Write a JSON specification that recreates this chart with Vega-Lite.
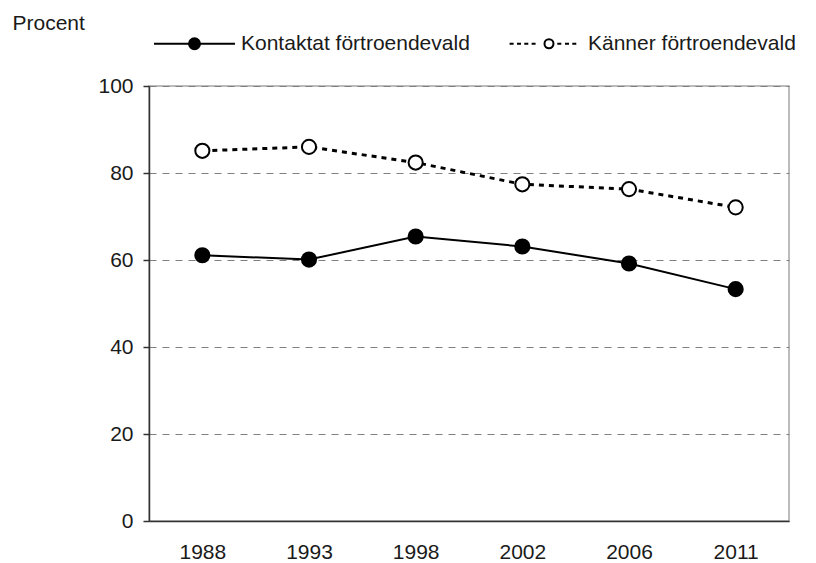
{
  "$schema": "https://vega.github.io/schema/vega-lite/v6.json",
  "width": 640,
  "height": 435,
  "autosize": {"type": "none"},
  "padding": {"left": 149, "top": 86, "right": 27, "bottom": 42},
  "background": "white",
  "config": {
    "font": "Liberation Sans",
    "view": {"stroke": "#a6a6a6", "strokeWidth": 1.5}
  },
  "data": {
    "values": [
      {"year": "1988", "series": "Kontaktat förtroendevald", "value": 61.1},
      {"year": "1993", "series": "Kontaktat förtroendevald", "value": 60.1},
      {"year": "1998", "series": "Kontaktat förtroendevald", "value": 65.4},
      {"year": "2002", "series": "Kontaktat förtroendevald", "value": 63.1},
      {"year": "2006", "series": "Kontaktat förtroendevald", "value": 59.2},
      {"year": "2011", "series": "Kontaktat förtroendevald", "value": 53.3},
      {"year": "1988", "series": "Känner förtroendevald", "value": 85.1},
      {"year": "1993", "series": "Känner förtroendevald", "value": 86.0},
      {"year": "1998", "series": "Känner förtroendevald", "value": 82.4},
      {"year": "2002", "series": "Känner förtroendevald", "value": 77.4},
      {"year": "2006", "series": "Känner förtroendevald", "value": 76.3},
      {"year": "2011", "series": "Känner förtroendevald", "value": 72.1}
    ]
  },
  "encoding": {
    "x": {
      "field": "year",
      "type": "ordinal",
      "scale": {"type": "point", "padding": 0.5},
      "axis": {
        "title": null,
        "labelAngle": 0,
        "ticks": false,
        "labelPadding": 20,
        "labelFontSize": 21,
        "labelColor": "#1a1a1a",
        "domainColor": "#333333",
        "domainWidth": 1.5,
        "grid": false
      }
    },
    "y": {
      "field": "value",
      "type": "quantitative",
      "scale": {"domain": [0, 100], "nice": false},
      "axis": {
        "values": [0, 20, 40, 60, 80, 100],
        "grid": true,
        "gridColor": "#808080",
        "gridDash": [7, 6],
        "gridWidth": 1.2,
        "domainColor": "#333333",
        "domainWidth": 1.5,
        "tickColor": "#333333",
        "tickSize": 6,
        "tickWidth": 1.5,
        "labelFontSize": 21,
        "labelPadding": 10,
        "labelColor": "#1a1a1a",
        "title": "Procent",
        "titleAngle": 0,
        "titleAlign": "left",
        "titleBaseline": "alphabetic",
        "titleX": -137,
        "titleY": -57,
        "titleFontSize": 21,
        "titleFontWeight": "normal",
        "titleColor": "#1a1a1a"
      }
    }
  },
  "layer": [
    {
      "transform": [{"filter": "datum.series === 'Kontaktat förtroendevald'"}],
      "mark": {"type": "line", "color": "black", "strokeWidth": 2}
    },
    {
      "transform": [{"filter": "datum.series === 'Känner förtroendevald'"}],
      "mark": {"type": "line", "color": "black", "strokeWidth": 3, "strokeDash": [5, 5]}
    },
    {
      "mark": {"type": "point", "filled": true, "size": 200, "stroke": "black", "strokeWidth": 2, "opacity": 0},
      "encoding": {
        "fill": {
          "field": "series",
          "type": "nominal",
          "scale": {"domain": ["Kontaktat förtroendevald", "Känner förtroendevald"], "range": ["black", "white"]},
          "legend": {
            "title": null,
            "orient": "none",
            "direction": "horizontal",
            "legendX": 4,
            "legendY": -84,
            "padding": 0,
            "symbolSize": 6561,
            "symbolStrokeWidth": 2,
            "symbolStrokeColor": "black",
            "symbolOpacity": 1,
            "labelFontSize": 21,
            "labelColor": "#1a1a1a",
            "labelLimit": 400,
            "labelOffset": 5,
            "columnPadding": 30,
            "encode": {"symbols": {"update": {"opacity": {"value": 1}}}}
          }
        },
        "shape": {
          "field": "series",
          "type": "nominal",
          "scale": {
            "domain": ["Kontaktat förtroendevald", "Känner förtroendevald"],
            "range": [
              "M-1,0H1M0.136,0A0.136,0.136,0,1,1,-0.136,0A0.136,0.136,0,1,1,0.136,0Z",
              "M-0.788,0H-0.689M-0.605,0H-0.506M-0.425,0H-0.326M-0.244,0H-0.146M0.39,0H0.489M0.58,0H0.679M0.76,0H0.859M0.296,0A0.111,0.111,0,1,1,0.074,0A0.111,0.111,0,1,1,0.296,0Z"
            ]
          },
          "legend": {
            "title": null,
            "orient": "none",
            "direction": "horizontal",
            "legendX": 4,
            "legendY": -84,
            "padding": 0,
            "symbolSize": 6561,
            "symbolStrokeWidth": 2,
            "symbolStrokeColor": "black",
            "symbolOpacity": 1,
            "labelFontSize": 21,
            "labelColor": "#1a1a1a",
            "labelLimit": 400,
            "labelOffset": 5,
            "columnPadding": 30,
            "encode": {"symbols": {"update": {"opacity": {"value": 1}}}}
          }
        }
      }
    },
    {
      "mark": {"type": "point", "shape": "circle", "filled": true, "size": 200, "stroke": "black", "strokeWidth": 2, "opacity": 1},
      "encoding": {
        "fill": {"field": "series", "type": "nominal"}
      }
    }
  ]
}
